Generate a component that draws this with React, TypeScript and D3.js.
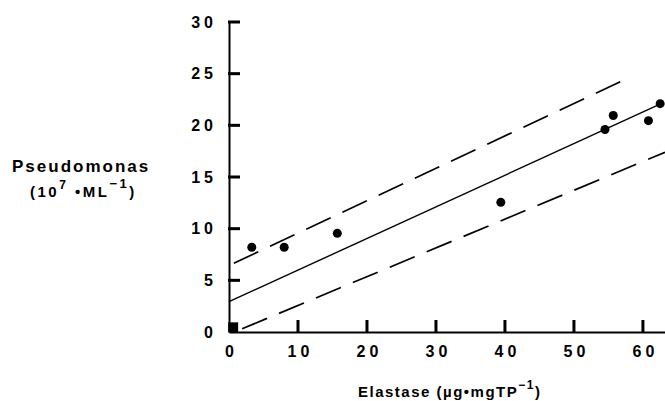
import { useEffect, useRef } from 'react'
import * as d3 from 'd3'

// Elastase (x) vs Pseudomonas count (y)
const elastase = [3.3, 8.0, 15.7, 39.4, 54.5, 55.7, 60.8, 62.5]
const pseudomonas = [8.2, 8.2, 9.55, 12.55, 19.6, 20.95, 20.45, 22.1]
// several readings piled up at the origin, drawn as a block
const originX = [0.6]
const originY = [0.45]

// regression line and the two dashed bands
const fitX = [0, 62.8]
const fitY = [2.93, 22.15]
const upperX = [0.7, 57.6]
const upperY = [6.65, 24.5]
const lowerX = [1.9, 63.2]
const lowerY = [0.31, 17.39]

const xTicks = [0, 10, 20, 30, 40, 50, 60]
const yTicks = [0, 5, 10, 15, 20, 25, 30]

const FONT = "'Liberation Sans', Arial, Helvetica, sans-serif"

export default function App() {
  const svgRef = useRef<SVGSVGElement>(null)

  useEffect(() => {
    const W = 665
    const H = 401
    const left = 229
    const right = 665
    const top = 22
    const bottom = 332
    const tick = 11

    const svg = d3.select(svgRef.current)
    svg.selectAll('*').remove()
    svg.attr('width', W).attr('height', H)

    const x = d3.scaleLinear().domain([0, 63.2]).range([left, right])
    const y = d3.scaleLinear().domain([0, 30]).range([bottom, top])

    const styleText = (g: any) => {
      g.selectAll('.tick text')
        .attr('font-family', FONT)
        .attr('font-weight', 'bold')
        .attr('font-size', 16)
        .attr('letter-spacing', 4)
        .attr('fill', '#000')
    }

    const gx = svg.append('g')
      .attr('transform', `translate(0,${bottom})`)
      .call(d3.axisBottom(x).tickValues(xTicks).tickSize(0).tickPadding(14).tickFormat(d3.format('d')))
      .call(styleText)
    gx.select('.domain').attr('stroke-width', 2)
    gx.selectAll('.tick text').attr('dx', 2)

    const gy = svg.append('g')
      .attr('transform', `translate(${left},0)`)
      .call(d3.axisLeft(y).tickValues(yTicks).tickSize(0).tickPadding(12).tickFormat(d3.format('d')))
      .call(styleText)
    gy.select('.domain').attr('stroke-width', 2)

    // inward ticks
    svg.selectAll('.xtick')
      .data(xTicks.filter(d => d > 0))
      .join('rect')
      .attr('class', 'xtick')
      .attr('x', d => x(d) - 1.5)
      .attr('y', bottom - tick - 1)
      .attr('width', 3)
      .attr('height', tick + 1)
      .attr('fill', '#000')

    svg.selectAll('.ytick')
      .data(yTicks.filter(d => d > 0))
      .join('rect')
      .attr('class', 'ytick')
      .attr('x', left - 1)
      .attr('y', d => y(d) - 1.5)
      .attr('width', tick + 1)
      .attr('height', 3)
      .attr('fill', '#000')

    const line = d3.line<[number, number]>()
      .x(d => x(d[0]))
      .y(d => y(d[1]))

    svg.append('path')
      .attr('d', line(fitX.map((v, i) => [v, fitY[i]])))
      .attr('fill', 'none')
      .attr('stroke', '#000')
      .attr('stroke-width', 1.4)

    const bands = [
      upperX.map((v, i) => [v, upperY[i]] as [number, number]),
      lowerX.map((v, i) => [v, lowerY[i]] as [number, number])
    ]
    svg.selectAll('.band')
      .data(bands)
      .join('path')
      .attr('class', 'band')
      .attr('d', d => line(d))
      .attr('fill', 'none')
      .attr('stroke', '#000')
      .attr('stroke-width', 1.7)
      .attr('stroke-dasharray', '27,13')

    svg.selectAll('.dot')
      .data(elastase.map((v, i) => [v, pseudomonas[i]]))
      .join('circle')
      .attr('class', 'dot')
      .attr('cx', d => x(d[0]))
      .attr('cy', d => y(d[1]))
      .attr('r', 4.5)
      .attr('fill', '#000')

    svg.selectAll('.block')
      .data(originX.map((v, i) => [v, originY[i]]))
      .join('rect')
      .attr('class', 'block')
      .attr('x', d => x(d[0]) - 5)
      .attr('y', d => y(d[1]) - 5)
      .attr('width', 10)
      .attr('height', 10)
      .attr('fill', '#000')

    // y title, two lines
    svg.append('text')
      .attr('font-family', FONT)
      .attr('font-weight', 'bold')
      .attr('font-size', 17)
      .attr('letter-spacing', 2)
      .attr('fill', '#000')
      .attr('x', 12).attr('y', 172)
      .text('Pseudomonas')

    const yt2 = svg.append('text')
      .attr('font-family', FONT)
      .attr('font-weight', 'bold')
      .attr('font-size', 15)
      .attr('letter-spacing', 2.5)
      .attr('fill', '#000')
      .attr('x', 30).attr('y', 197)
    yt2.append('tspan').text('(10')
    yt2.append('tspan').attr('dy', -8).attr('font-size', 12).text('7')
    yt2.append('tspan').attr('dy', 8).text(' •ML')
    yt2.append('tspan').attr('dy', -9).attr('font-size', 13).text('−1')
    yt2.append('tspan').attr('dy', 9).text(')')

    // x title
    const xt = svg.append('text')
      .attr('font-family', FONT)
      .attr('font-weight', 'bold')
      .attr('font-size', 15)
      .attr('letter-spacing', 1.5)
      .attr('fill', '#000')
      .attr('x', 358).attr('y', 397)
    xt.append('tspan').text('Elastase (µg•mgTP')
    xt.append('tspan').attr('dy', -8).attr('font-size', 12).text('−1')
    xt.append('tspan').attr('dy', 8).text(')')
  }, [])

  return (
    <div style={{ position: 'absolute', left: 0, top: 0, background: '#fff' }}>
      <svg ref={svgRef} style={{ display: 'block' }} />
    </div>
  )
}
